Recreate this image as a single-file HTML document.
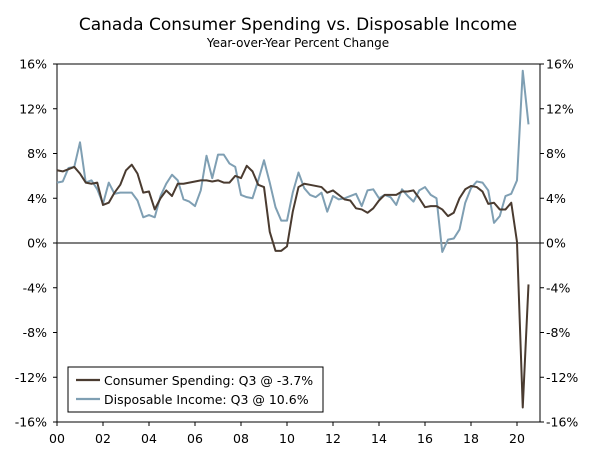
<!DOCTYPE html>
<html><head><meta charset="utf-8"><style>
body{margin:0;background:#fff;}
svg text{font-family:"DejaVu Sans","Liberation Sans",sans-serif;fill:#000;}
</style></head><body>
<svg width="600" height="459" xmlns="http://www.w3.org/2000/svg">
<text x="298" y="30" font-size="17" text-anchor="middle">Canada Consumer Spending vs. Disposable Income</text>
<text x="298" y="47" font-size="12" text-anchor="middle">Year-over-Year Percent Change</text>
<g id="axes"></g>
<g id="series"></g>
<g>
<rect x="68" y="367" width="255" height="45" fill="#fff" stroke="#000" stroke-width="1"/>
<line x1="76" y1="380" x2="100" y2="380" stroke="#4a3b30" stroke-width="2.2"/>
<text x="104" y="385" font-size="12.5">Consumer Spending: Q3 @ -3.7%</text>
<line x1="76" y1="399" x2="100" y2="399" stroke="#7f9fb3" stroke-width="2.2"/>
<text x="104" y="404" font-size="12.5">Disposable Income: Q3 @ 10.6%</text>
</g>
</svg>
<script>
const yTicks=[16,12,8,4,0,-4,-8,-12,-16];
const xLabels=["00","02","04","06","08","10","12","14","16","18","20"];
const spending=[6.5,6.4,6.6,6.8, 6.2,5.4,5.3,5.4, 3.4,3.6,4.5,5.2, 6.5,7.0,6.2,4.5, 4.6,3.0,4.0,4.7, 4.2,5.3,5.3,5.4, 5.5,5.6,5.6,5.5, 5.6,5.4,5.4,6.0, 5.8,6.9,6.4,5.2, 5.0,1.0,-0.7,-0.7, -0.3,2.8,5.0,5.3, 5.2,5.1,5.0,4.5, 4.7,4.3,3.9,3.8, 3.1,3.0,2.7,3.1, 3.8,4.3,4.3,4.3, 4.6,4.6,4.7,4.0, 3.2,3.3,3.3,3.0, 2.4,2.7,4.0,4.8, 5.1,5.0,4.6,3.5, 3.6,3.0,3.0,3.6, 0.1,-14.7,-3.7];
const income=[5.4,5.5,6.7,6.8, 9.0,5.4,5.6,4.8, 3.5,5.4,4.4,4.5, 4.5,4.5,3.8,2.3, 2.5,2.3,4.2,5.3, 6.1,5.6,3.9,3.7, 3.3,4.7,7.8,5.8, 7.9,7.9,7.1,6.8, 4.3,4.1,4.0,5.6, 7.4,5.4,3.2,2.0, 2.0,4.5,6.3,4.9, 4.3,4.1,4.5,2.8, 4.2,3.9,4.0,4.2, 4.4,3.3,4.7,4.8, 4.0,4.3,4.1,3.4, 4.8,4.2,3.7,4.7, 5.0,4.3,4.0,-0.8, 0.3,0.4,1.2,3.6, 4.9,5.5,5.4,4.7, 1.8,2.4,4.2,4.4, 5.6,15.4,10.6];
const L=57,R=540,T=64,B=422;
const y=v=>T+(16-v)/32*(B-T);
const x=i=>L+i*5.75;
const NS="http://www.w3.org/2000/svg";
const axes=document.getElementById('axes'),ser=document.getElementById('series');
function mk(tag,attrs,parent){const e=document.createElementNS(NS,tag);for(const k in attrs)e.setAttribute(k,attrs[k]);parent.appendChild(e);return e;}
const frame=mk('rect',{x:L,y:T,width:R-L,height:B-T,fill:'none',stroke:'#000','stroke-width':1},axes);


yTicks.forEach(v=>{
 const l=mk('text',{x:L-10,y:y(v)+4.5,'font-size':12.5,'text-anchor':'end'},axes);l.textContent=v+'%';
 
 
 const r=mk('text',{x:R+6,y:y(v)+4.5,'font-size':12.5},axes);r.textContent=v+'%';
 
 
 mk('line',{x1:L-4,x2:L,y1:y(v),y2:y(v),stroke:'#000'},axes);
 mk('line',{x1:R,x2:R+4,y1:y(v),y2:y(v),stroke:'#000'},axes);
});
xLabels.forEach((s,k)=>{
 const px=x(k*8);
 const t=mk('text',{x:px,y:443,'font-size':12.5,'text-anchor':'middle'},axes);t.textContent=s;
 
 
 mk('line',{x1:px,x2:px,y1:B,y2:B+4,stroke:'#000'},axes);
});
const z=mk('line',{x1:L,x2:R,y1:y(0),y2:y(0),stroke:'#333','stroke-width':1.2},axes);


function line(d,c,name){
 const p=mk('polyline',{points:d.map((v,i)=>x(i)+','+y(v)).join(' '),fill:'none',stroke:c,'stroke-width':2,'stroke-linejoin':'round'},ser);
 
 
}
line(income,'#7f9fb3','disposable-income-line');
line(spending,'#4a3b30','consumer-spending-line');
</script>
</body></html>
